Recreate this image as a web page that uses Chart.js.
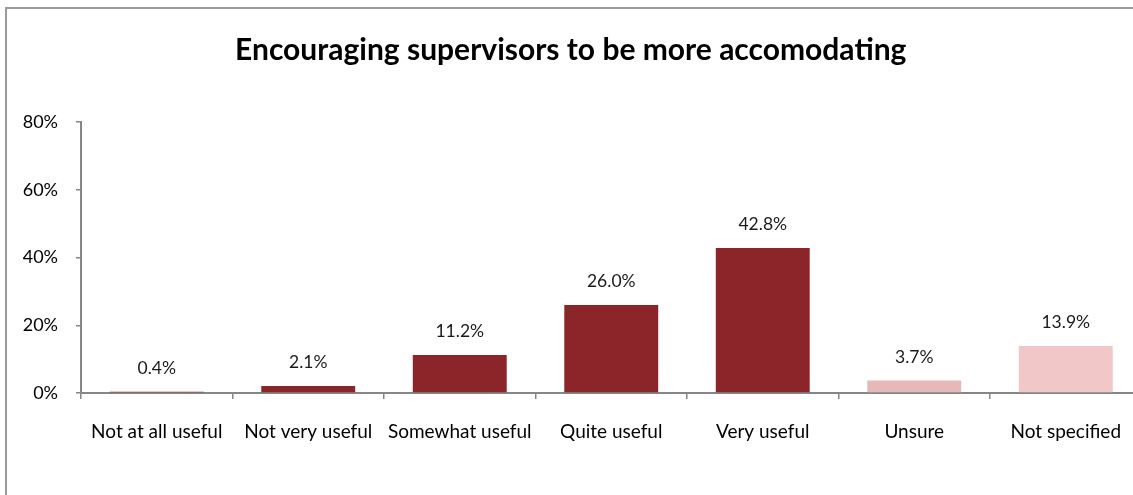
<!DOCTYPE html>
<html>
<head>
<meta charset="utf-8">
<script src="https://cdn.jsdelivr.net/npm/chart.js@4/dist/chart.umd.min.js"></script>
<style>
  html, body { margin: 0; padding: 0; background: #fff; overflow: hidden; }
  #wrap { position: relative; width: 1133px; height: 495px; overflow: hidden; }
  #frame { position: absolute; left: 5px; top: 7px; width: 1200px; height: 600px;
           border-left: 2px solid #9a9a9a; border-top: 2px solid #9a9a9a; box-sizing: border-box; }
  #box { position: absolute; left: 0; top: 0; width: 1160px; height: 495px; }
</style>
</head>
<body>
<div id="wrap">
  <div id="frame"></div>
  <div id="box"><canvas id="c"></canvas></div>
</div>
<script>
const titleText = "Encouraging supervisors to be more accomodating";
const categories = ["Not at all useful", "Not very useful", "Somewhat useful", "Quite useful", "Very useful", "Unsure", "Not specified"];
const values = [0.4, 2.1, 11.2, 26.0, 42.8, 3.7, 13.9];
const barColors = ["#8B2529", "#8B2529", "#8B2529", "#8B2529", "#8B2529", "#E6B9B8", "#F2C7C7"];
const yTicks = [0, 20, 40, 60, 80];

const FONT = "Lato, 'Liberation Sans', sans-serif";

const labelPlugin = {
  id: 'barLabels',
  afterDatasetsDraw(chart) {
    const ctx = chart.ctx;
    const meta = chart.getDatasetMeta(0);
    ctx.save();
    ctx.font = "17.5px " + FONT;
    ctx.fillStyle = "#1a1a1a";
    ctx.textAlign = "center";
    ctx.textBaseline = "middle";
    meta.data.forEach((bar, i) => {
      ctx.fillText(values[i].toFixed(1) + "%", bar.x, bar.y - 23.5);
    });
    ctx.restore();
  }
};

new Chart(document.getElementById('c'), {
  type: 'bar',
  data: {
    labels: categories,
    datasets: [{
      data: values,
      backgroundColor: barColors,
      borderWidth: 0,
      categoryPercentage: 1,
      barPercentage: 0.62
    }]
  },
  options: {
    responsive: true,
    maintainAspectRatio: false,
    animation: false,
    layout: { padding: { left: 0, right: 18.5, top: 0, bottom: 0 } },
    plugins: {
      legend: { display: false },
      tooltip: { enabled: false },
      title: {
        display: true,
        text: titleText,
        color: "#000",
        font: { family: FONT, size: 30, weight: 'bold' },
        padding: { top: 32, bottom: 54 }
      }
    },
    scales: {
      x: {
        offset: true,
        grid: { display: true, drawOnChartArea: false, offset: true, color: "#868686", lineWidth: 1.5, tickLength: 6 },
        border: { display: true, color: "#868686", width: 2 },
        ticks: { color: "#000", font: { family: FONT, size: 19 }, padding: 21.5, maxRotation: 0, autoSkip: false },
        afterFit(scale) { scale.height = 102; }
      },
      y: {
        min: 0, max: 80,
        afterBuildTicks(scale) { scale.ticks = yTicks.map(v => ({ value: v })); },
        grid: { display: true, drawOnChartArea: false, color: "#868686", lineWidth: 1.5, tickLength: 5 },
        border: { display: true, color: "#868686", width: 2 },
        ticks: { color: "#000", font: { family: FONT, size: 18 }, padding: 18, callback: v => v + "%" },
        afterFit(scale) { scale.width = 81; }
      }
    }
  },
  plugins: [labelPlugin]
});
</script>
</body>
</html>
